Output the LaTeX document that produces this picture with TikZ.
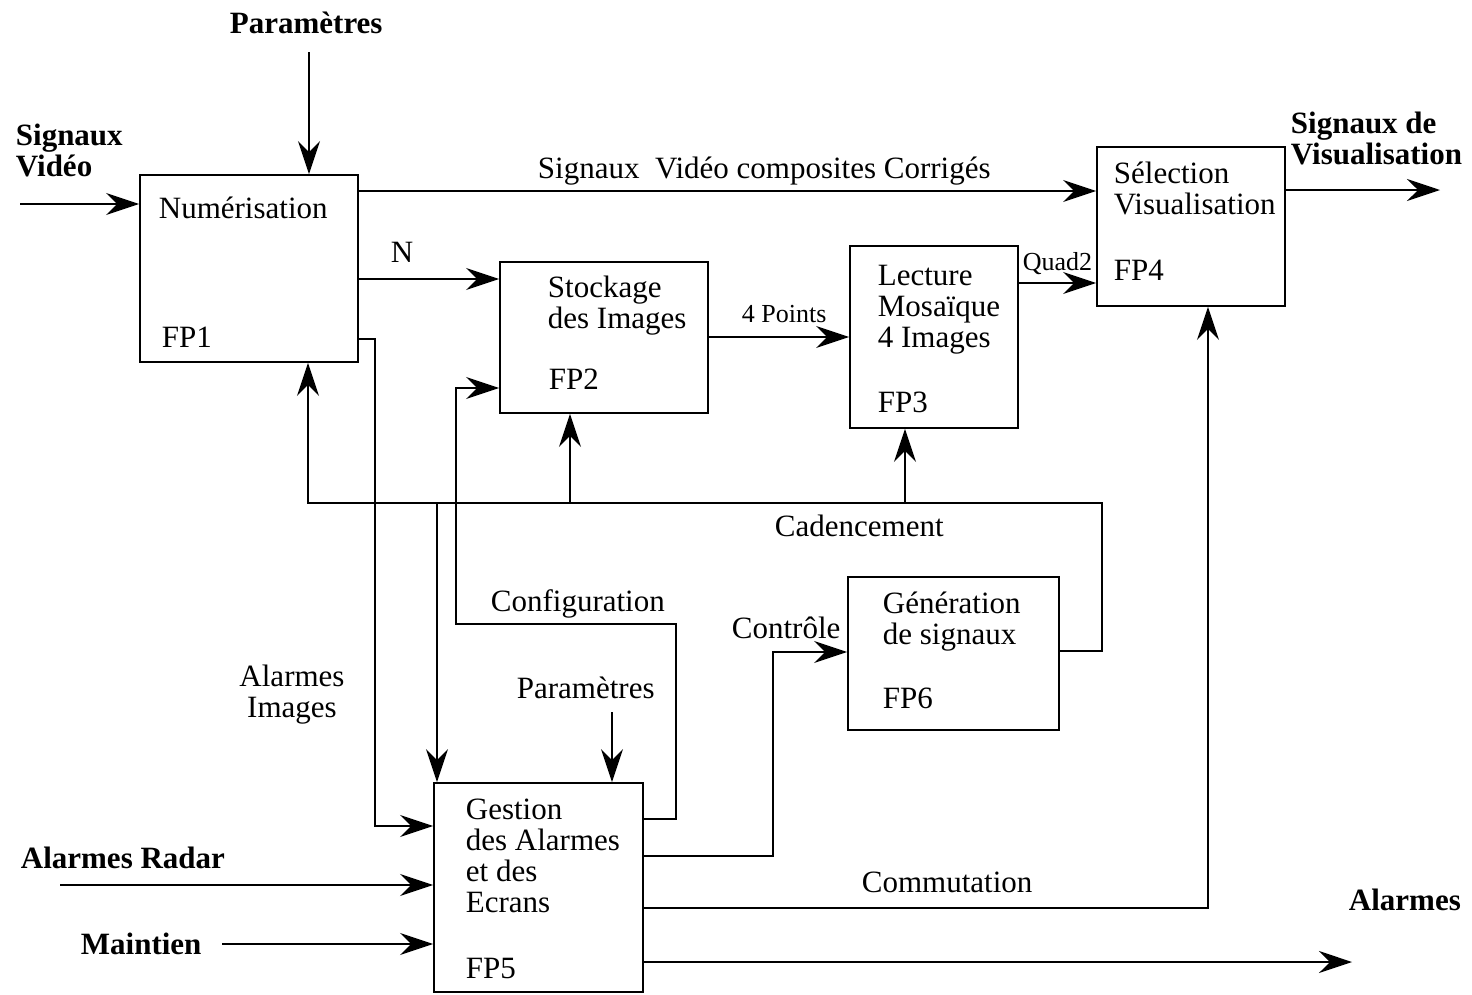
\documentclass[tikz,border=0pt]{standalone}
\usepackage{fontspec}
\setmainfont{Liberation Serif}
\usetikzlibrary{arrows.meta}
\newcommand{\lignes}[1]{\begin{tabular}[t]{@{}l@{}}#1\end{tabular}}
\newcommand{\lignesc}[1]{\begin{tabular}[t]{@{}c@{}}#1\end{tabular}}
\begin{document}
\begin{tikzpicture}[x=1pt, y=-1pt, line width=1.8pt,
  font=\fontsize{31}{31}\selectfont,
  bloc/.style={draw, inner sep=0pt},
  flux/.style={-{Stealth[length=33pt, width=22pt, inset=11pt]}},
  txt/.style={anchor=base west, inner sep=0pt},
  petit/.style={font=\fontsize{26}{26}\selectfont},
  gras/.style={font=\fontsize{31}{31}\selectfont\bfseries}]
\useasboundingbox (0,0) rectangle (1472,994);

% blocs
\node[bloc, minimum width=218pt, minimum height=187pt] (fp1) at (249,268.5) {};
\node[bloc, minimum width=208pt, minimum height=151pt] (fp2) at (604,337.5) {};
\node[bloc, minimum width=168pt, minimum height=182pt] (fp3) at (934,337) {};
\node[bloc, minimum width=188pt, minimum height=159pt] (fp4) at (1191,226.5) {};
\node[bloc, minimum width=209pt, minimum height=209pt] (fp5) at (538.5,887.5) {};
\node[bloc, minimum width=211pt, minimum height=153pt] (fp6) at (953.5,653.5) {};

\node[txt] (n1) at (158,218) {Numérisation};
\node[txt] (f1) at (161,347) {FP1};
\node[txt] (n2) at (547,297) {\lignes{Stockage\\des Images}};
\node[txt] (f2) at (548,389) {FP2};
\node[txt] (n3) at (877,285) {\lignes{Lecture\\Mosaïque\\4 Images}};
\node[txt] (f3) at (877,412) {FP3};
\node[txt] (n4) at (1113,183) {\lignes{Sélection\\Visualisation}};
\node[txt] (f4) at (1113,280) {FP4};
\node[txt] (n5) at (465,819) {\lignes{Gestion\\des Alarmes\\et des\\Ecrans}};
\node[txt] (f5) at (465,978) {FP5};
\node[txt] (n6) at (882,613) {\lignes{Génération\\de signaux}};
\node[txt] (f6) at (882,708) {FP6};

% entrees et sorties
\coordinate (pin) at (309,52);
\coordinate (vin) at (20,204);
\coordinate (vout) at (1440,190);
\coordinate (pin2) at (612,712);
\coordinate (rin) at (60,885);
\coordinate (mnt) at (222,944);
\coordinate (aout) at (1352,962);
\coordinate (bus2) at (570,503);
\coordinate (bus3) at (905,503);
\coordinate (bus5) at (437,503);

\draw[flux] (pin) -- (fp1.north -| pin);
\draw[flux] (vin) -- (fp1.west |- vin);
\draw[flux] (fp1.east |- 0,191) -- (fp4.west |- 0,191);
\draw[flux] (fp1.east |- 0,279) -- (fp2.west |- 0,279);
\draw[flux] (fp2.east |- 0,337) -- (fp3.west |- 0,337);
\draw[flux] (fp3.east |- 0,283) -- (fp4.west |- 0,283);
\draw[flux] (fp4.east |- vout) -- (vout);

% cadencement
\draw[flux] (fp6.east |- 0,651) -- (1102,651) -- (1102,503) -- (308,503) -- (fp1.south -| 308,0);
\draw[flux] (bus2) -- (fp2.south -| bus2);
\draw[flux] (bus3) -- (fp3.south -| bus3);
\draw[flux] (bus5) -- (fp5.north -| bus5);

\draw[flux] (fp1.east |- 0,339) -| (375,826) -- (fp5.west |- 0,826);
\draw[flux] (fp5.east |- 0,819) -| (676,624) -| (456,388) -- (fp2.west |- 0,388);
\draw[flux] (pin2) -- (fp5.north -| pin2);
\draw[flux] (fp5.east |- 0,856) -| (773,652) -- (fp6.west |- 0,652);
\draw[flux] (fp5.east |- 0,908) -| (fp4.south -| 1208,0);
\draw[flux] (rin) -- (fp5.west |- rin);
\draw[flux] (mnt) -- (fp5.west |- mnt);
\draw[flux] (fp5.east |- aout) -- (aout);

% etiquettes
\node[txt, gras] (l1) at (229,33) {Paramètres};
\node[txt, gras] (l2) at (15,145) {\lignes{Signaux\\Vidéo}};
\node[txt] (l3) at (537,178) {Signaux\ \ Vidéo composites Corrigés};
\node[txt] (l4) at (390,262) {N};
\node[txt, petit] (l5) at (741,322) {4 Points};
\node[txt, petit] (l6) at (1022,270) {Quad2};
\node[txt, gras] (l7) at (1290,133) {\lignes{Signaux de\\Visualisation}};
\node[txt] (l8) at (774,536) {Cadencement};
\node[txt] (l9) at (490,611) {Configuration};
\node[txt] (l10) at (731,638) {Contrôle};
\node[anchor=base, inner sep=0pt] (l11) at (292,686) {\lignesc{Alarmes\\Images}};
\node[txt] (l12) at (516,698) {Paramètres};
\node[txt] (l13) at (861,892) {Commutation};
\node[txt, gras] (l14) at (20,868) {Alarmes Radar};
\node[txt, gras] (l15) at (80,954) {Maintien};
\node[txt, gras] (l16) at (1348,910) {Alarmes};
\end{tikzpicture}
\end{document}
